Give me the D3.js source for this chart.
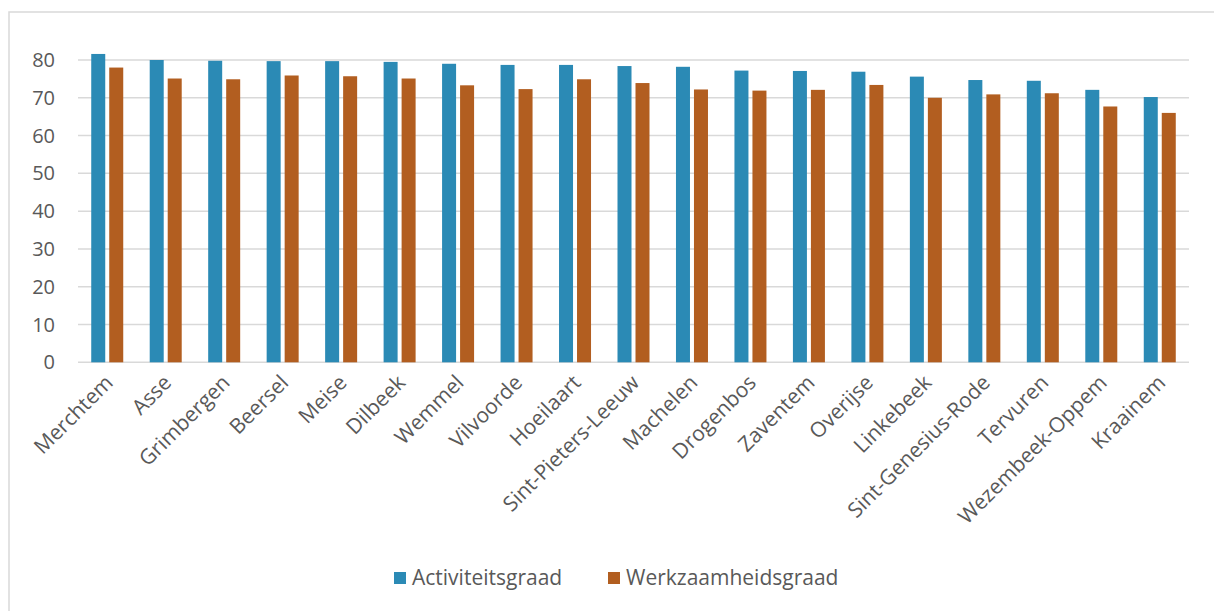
<!DOCTYPE html>
<html>
<head>
<meta charset="utf-8">
<script src="https://cdn.jsdelivr.net/npm/d3@7"></script>
<style>
  body { margin: 0; background: #fff; }
  text { font-family: "Open Sans", sans-serif; fill: #595959; }
</style>
</head>
<body>
<div id="chart"></div>
<script>
var gemeenten = ["Merchtem", "Asse", "Grimbergen", "Beersel", "Meise", "Dilbeek", "Wemmel", "Vilvoorde",
  "Hoeilaart", "Sint-Pieters-Leeuw", "Machelen", "Drogenbos", "Zaventem", "Overijse", "Linkebeek",
  "Sint-Genesius-Rode", "Tervuren", "Wezembeek-Oppem", "Kraainem"];
var activiteit = [81.6, 80.0, 79.8, 79.7, 79.7, 79.5, 79.0, 78.7, 78.7, 78.4, 78.2, 77.2, 77.1, 76.9, 75.6, 74.7, 74.5, 72.1, 70.2];
var werkzaamheid = [78.0, 75.1, 74.9, 75.9, 75.7, 75.1, 73.3, 72.3, 74.9, 73.9, 72.2, 71.9, 72.1, 73.4, 70.0, 70.9, 71.2, 67.7, 66.0];
var yTicks = [0, 10, 20, 30, 40, 50, 60, 70, 80];
var reeksen = ["Activiteitsgraad", "Werkzaamheidsgraad"];
var kleuren = ["#2b8ab5", "#b25e20"];

var width = 1214, height = 611;
var mLeft = 78, mRight = 1189, mTop = 60, mBottom = 362.3;

var svg = d3.select("#chart").append("svg")
    .attr("width", width)
    .attr("height", height);

// frame
svg.append("rect")
    .attr("x", 9).attr("y", 12)
    .attr("width", 1220).attr("height", 620)
    .attr("fill", "none")
    .attr("stroke", "#d9d9d9")
    .attr("stroke-width", 1.5);

var x = d3.scaleBand().domain(gemeenten).range([mLeft, mRight]);
var y = d3.scaleLinear().domain([0, 80]).range([mBottom, mTop]);

// gridlines
svg.append("g").selectAll("line")
    .data(yTicks)
  .enter().append("line")
    .attr("x1", mLeft).attr("x2", mRight)
    .attr("y1", function(d) { return y(d); })
    .attr("y2", function(d) { return y(d); })
    .attr("stroke", "#d9d9d9")
    .attr("stroke-width", 1.5);

// y labels
svg.append("g").selectAll("text")
    .data(yTicks)
  .enter().append("text")
    .attr("x", 55)
    .attr("y", function(d) { return y(d); })
    .attr("dy", "0.35em")
    .attr("text-anchor", "end")
    .style("font-size", "20px")
    .text(function(d) { return d; });

var barW = 14, gap = 4;
var series = [activiteit, werkzaamheid];

series.forEach(function(vals, s) {
  svg.append("g").selectAll("rect")
      .data(vals)
    .enter().append("rect")
      .attr("x", function(d, i) { return x(gemeenten[i]) + x.bandwidth() / 2 - barW - gap / 2 + s * (barW + gap); })
      .attr("y", function(d) { return y(d); })
      .attr("width", barW)
      .attr("height", function(d) { return y(0) - y(d); })
      .attr("fill", kleuren[s]);
});

// category labels
svg.append("g").selectAll("text")
    .data(gemeenten)
  .enter().append("text")
    .attr("transform", function(d) { return "translate(" + (x(d) + x.bandwidth() / 2 + 7) + "," + 384 + ")rotate(-45)"; })
    .attr("text-anchor", "end")
    .style("font-size", "21px")
    .text(function(d) { return d; });

// legend
var legendX = [394, 608];
reeksen.forEach(function(r, i) {
  svg.append("rect")
      .attr("x", legendX[i]).attr("y", 572)
      .attr("width", 12).attr("height", 12)
      .attr("fill", kleuren[i]);
  svg.append("text")
      .attr("x", legendX[i] + 18).attr("y", 578)
      .attr("dy", "0.35em")
      .style("font-size", "21px")
      .text(r);
});
</script>
</body>
</html>
